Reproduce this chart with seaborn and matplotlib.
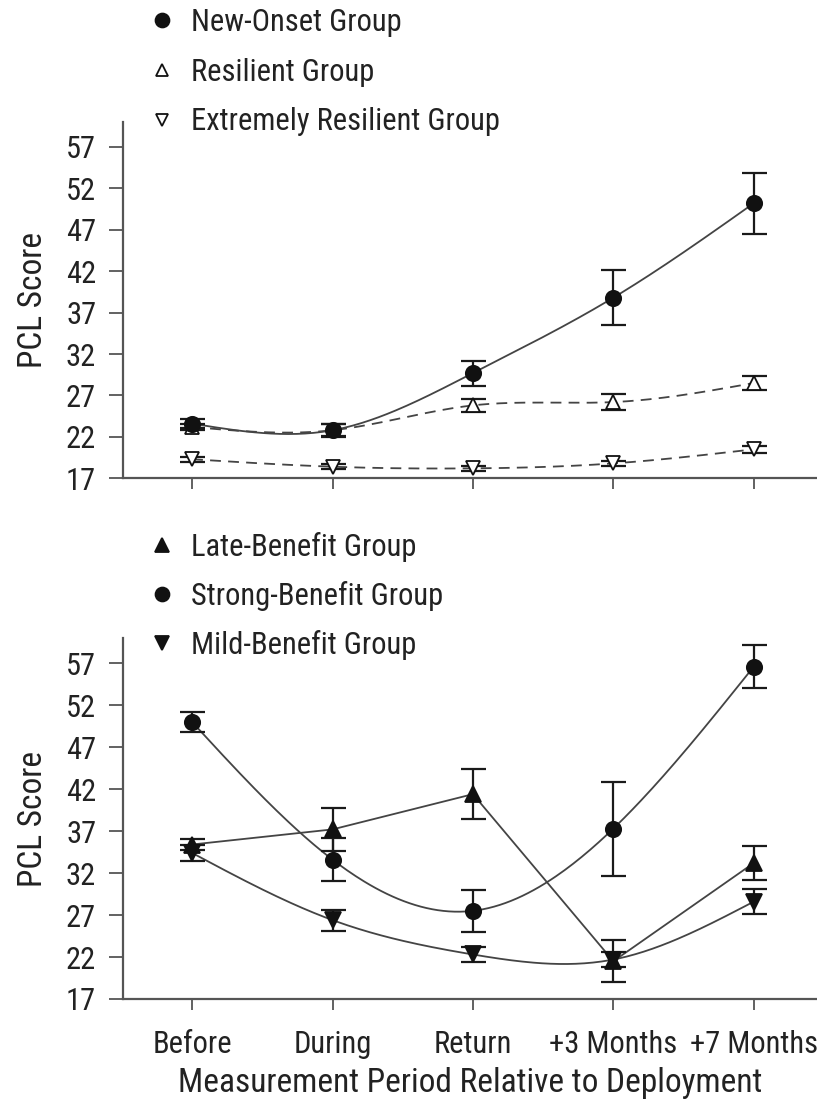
import numpy as np
import pandas as pd
import matplotlib
matplotlib.use("Agg")
import matplotlib.pyplot as plt
from matplotlib.lines import Line2D
import seaborn as sns

periods = ["Before", "During", "Return", "+3 Months", "+7 Months"]

# top panel
new_onset = [23.6, 22.8, 29.7, 38.8, 50.2]
new_onset_err = [0.5, 0.8, 1.5, 3.3, 3.7]
resilient = [23.2, 22.8, 25.8, 26.2, 28.5]
resilient_err = [0.4, 0.7, 0.8, 1.0, 0.9]
ext_resilient = [19.3, 18.4, 18.2, 18.8, 20.5]
ext_resilient_err = [0.3, 0.3, 0.3, 0.3, 0.4]

# bottom panel
late_benefit = [35.4, 37.2, 41.4, 21.5, 33.2]
late_benefit_err = [0.7, 2.6, 3.0, 2.5, 2.0]
strong_benefit = [50.0, 33.6, 27.5, 37.3, 56.6]
strong_benefit_err = [1.15, 2.6, 2.5, 5.6, 2.55]
mild_benefit = [34.4, 26.4, 22.3, 21.7, 28.6]
mild_benefit_err = [1.0, 1.25, 0.9, 0.9, 1.5]

yticks = [17, 22, 27, 32, 37, 42, 47, 52, 57]

sns.set_style("ticks")
plt.rcParams["font.family"] = ["Roboto Condensed", "Archivo Narrow", "DejaVu Sans"]
FS = 22
LFS = 24
plt.rcParams["font.size"] = FS
TXT = "#222222"
GRAY = "#444444"
SP = "#555555"


def natural_spline(y, n=200):
    y = np.asarray(y, float)
    x = np.arange(len(y), dtype=float)
    m = len(y)
    h = np.diff(x)
    A = np.zeros((m, m))
    b = np.zeros(m)
    A[0, 0] = 1
    A[-1, -1] = 1
    for i in range(1, m - 1):
        A[i, i - 1] = h[i - 1]
        A[i, i] = 2 * (h[i - 1] + h[i])
        A[i, i + 1] = h[i]
        b[i] = 3 * ((y[i + 1] - y[i]) / h[i] - (y[i] - y[i - 1]) / h[i - 1])
    c = np.linalg.solve(A, b)
    xs = np.linspace(x[0], x[-1], n)
    ys = np.empty_like(xs)
    for k, xv in enumerate(xs):
        i = min(int(np.floor(xv)), m - 2)
        dx = xv - x[i]
        bi = (y[i + 1] - y[i]) / h[i] - h[i] * (2 * c[i] + c[i + 1]) / 3
        di = (c[i + 1] - c[i]) / (3 * h[i])
        ys[k] = y[i] + bi * dx + c[i] * dx ** 2 + di * dx ** 3
    return xs, ys


fig = plt.figure(figsize=(8.17, 11.09), dpi=100)
ax1 = fig.add_axes([0.150, 0.5687, 0.850, 0.3213])
ax2 = fig.add_axes([0.150, 0.0992, 0.850, 0.3255])

xidx = np.arange(len(periods))


def draw(ax, vals, errs, marker, face, ls, smooth=True, ms=11):
    if smooth:
        xs, ys = natural_spline(vals)
    else:
        xs, ys = xidx.astype(float), np.asarray(vals)
    sns.lineplot(x=xs, y=ys, ax=ax, color=GRAY, lw=1.3, linestyle=ls,
                 sort=False, estimator=None, zorder=2)
    ax.errorbar(xidx, vals, yerr=errs, fmt="none", ecolor="#1a1a1a",
                elinewidth=1.6, capsize=9, capthick=1.6, zorder=3)
    ax.plot(xidx, vals, linestyle="none", marker=marker, markersize=ms,
            markerfacecolor=face, markeredgecolor="#111111",
            markeredgewidth=1.3, zorder=4)


draw(ax1, ext_resilient, ext_resilient_err, "v", "white", (0, (6, 4)), ms=10)
draw(ax1, resilient, resilient_err, "^", "white", (0, (6, 4)), ms=10)
draw(ax1, new_onset, new_onset_err, "o", "#111111", "-")

draw(ax2, mild_benefit, mild_benefit_err, "v", "#111111", "-")
draw(ax2, late_benefit, late_benefit_err, "^", "#111111", "-", smooth=False)
draw(ax2, strong_benefit, strong_benefit_err, "o", "#111111", "-")

for ax in (ax1, ax2):
    ax.set_xlim(-0.495, 4.45)
    ax.set_ylim(17, 60)
    ax.set_yticks(yticks)
    ax.set_yticklabels([str(t) for t in yticks], fontsize=FS, color=TXT)
    ax.set_xticks(xidx)
    sns.despine(ax=ax)
    for s in ("left", "bottom"):
        ax.spines[s].set_color(SP)
        ax.spines[s].set_linewidth(1.6)
    ax.tick_params(axis="y", length=10, width=1.3, color=SP, pad=9)
    ax.tick_params(axis="x", length=8, width=1.3, color=SP, pad=14)
    ax.set_ylabel("PCL Score", fontsize=LFS, labelpad=12, color=TXT)

ax1.set_xticklabels([])
ax1.set_xlabel("")
ax2.set_xticklabels(periods, fontsize=FS, color=TXT)
ax2.set_xlabel("Measurement Period Relative to Deployment", fontsize=LFS,
               labelpad=6, color=TXT)


def handle(marker, face, ms=10):
    return Line2D([], [], linestyle="none", marker=marker, markersize=ms,
                  markerfacecolor=face, markeredgecolor="#111111", markeredgewidth=1.3)


leg1 = [handle("o", "#111111"), handle("^", "white", 9), handle("v", "white", 9)]
lab1 = ["New-Onset Group", "Resilient Group", "Extremely Resilient Group"]
l1 = fig.legend(leg1, lab1, loc="upper left", bbox_to_anchor=(0.168, 1.004),
                frameon=False, fontsize=FS, handlelength=0.8, handletextpad=0.55,
                labelspacing=0.68, borderaxespad=0)

leg2 = [handle("^", "#111111"), handle("o", "#111111"), handle("v", "#111111")]
lab2 = ["Late-Benefit Group", "Strong-Benefit Group", "Mild-Benefit Group"]
l2 = fig.legend(leg2, lab2, loc="upper left", bbox_to_anchor=(0.168, 0.5312),
                frameon=False, fontsize=FS, handlelength=0.8, handletextpad=0.55,
                labelspacing=0.62, borderaxespad=0)
for lg in (l1, l2):
    for t in lg.get_texts():
        t.set_color(TXT)

fig.savefig("out.png", dpi=100)
